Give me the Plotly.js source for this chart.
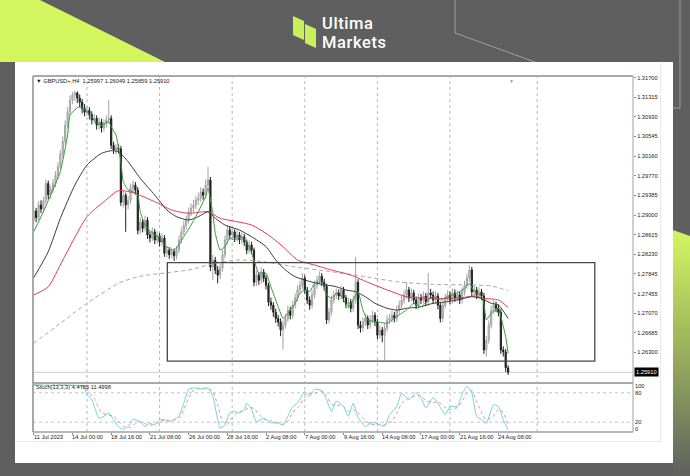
<!DOCTYPE html>
<html><head><meta charset="utf-8">
<script src="https://cdn.plot.ly/plotly-3.0.1.min.js"></script>
<style>
html,body{margin:0;padding:0;width:690px;height:476px;overflow:hidden;background:#5f5f5f;}
#bg{position:absolute;left:0;top:0;}
#chart{position:absolute;left:0;top:0;width:690px;height:476px;}
.logo{position:absolute;left:322px;color:#fff;font-family:Roboto,"Noto Sans",sans-serif;font-weight:500;font-size:16.5px;line-height:16.5px;height:16.5px;letter-spacing:0.6px;white-space:nowrap;}
</style></head><body>
<svg id="bg" width="690" height="476">
 <defs><linearGradient id="rg" x1="0" y1="0" x2="0" y2="1">
  <stop offset="0" stop-color="#d3f65f"/><stop offset="0.6" stop-color="#8e9f5c"/><stop offset="1" stop-color="#5f5f5f"/></linearGradient></defs>
 <polygon points="0,0 40,0 165,62 0,62" fill="#d3f65f"/>
 <polygon points="673,230 690,236 690,476 673,476" fill="url(#rg)"/>
 <polyline points="455,0 455,33 535,62" fill="none" stroke="#a0a0a0" stroke-width="1"/>
 <polyline points="680,0 680,108 673,108" fill="none" stroke="#a0a0a0" stroke-width="1"/>
 <rect x="15" y="62" width="658" height="401" fill="#ffffff"/>
 <polygon points="293,16 304,21 304,40 293,35" fill="#c9ef5a"/>
 <polygon points="305,24 316,29 316,48 305,43" fill="#c9ef5a"/>
</svg>
<div class="logo" style="top:15.5px;">Ultima</div>
<div class="logo" style="top:35px;">Markets</div>
<div id="chart"></div>
<script>
const symbolName = 'GBPUSD+,H4';
const openP = [1.2890,1.2908,1.2895,1.2920,1.2912,1.2928,1.2962,1.2940,1.2950,1.2962,
 1.2978,1.2995,1.3020,1.3045,1.3077,1.3103,1.3126,1.3136,1.3140,1.3130,
 1.3122,1.3110,1.3102,1.3106,1.3097,1.3087,1.3090,1.3077,1.3083,1.3071,
 1.3079,1.3087,1.3090,1.3037,1.3028,1.3032,1.3030,1.2925,1.2939,1.2920,
 1.2929,1.2953,1.2959,1.2949,1.2870,1.2886,1.2874,1.2890,1.2861,1.2855,
 1.2867,1.2851,1.2859,1.2847,1.2855,1.2825,1.2831,1.2822,1.2828,1.2820,
 1.2831,1.2851,1.2867,1.2880,1.2890,1.2906,1.2914,1.2920,1.2929,1.2933,
 1.2945,1.2939,1.2959,1.2969,1.2798,1.2811,1.2792,1.2782,1.2796,1.2822,
 1.2851,1.2871,1.2861,1.2867,1.2855,1.2861,1.2851,1.2857,1.2847,1.2831,
 1.2841,1.2831,1.2768,1.2782,1.2772,1.2788,1.2776,1.2762,1.2729,1.2723,
 1.2709,1.2697,1.2690,1.2674,1.2684,1.2697,1.2713,1.2703,1.2723,1.2737,
 1.2753,1.2762,1.2776,1.2753,1.2733,1.2723,1.2743,1.2762,1.2772,1.2780,
 1.2768,1.2760,1.2694,1.2709,1.2733,1.2743,1.2747,1.2741,1.2753,1.2737,
 1.2725,1.2729,1.2717,1.2733,1.2768,1.2684,1.2678,1.2690,1.2697,1.2684,
 1.2694,1.2703,1.2690,1.2664,1.2674,1.2664,1.2678,1.2694,1.2697,1.2703,
 1.2697,1.2713,1.2723,1.2733,1.2743,1.2753,1.2737,1.2747,1.2733,1.2723,
 1.2737,1.2733,1.2741,1.2729,1.2747,1.2743,1.2733,1.2741,1.2723,1.2697,
 1.2723,1.2737,1.2743,1.2733,1.2747,1.2737,1.2743,1.2733,1.2749,1.2762,
 1.2776,1.2792,1.2749,1.2753,1.2743,1.2749,1.2741,1.2635,1.2654,1.2684,
 1.2713,1.2723,1.2717,1.2709,1.2635,1.2631,1.25997];
const highP = [1.2918,1.2914,1.2927,1.2929,1.2936,1.2970,1.2968,1.2958,1.2971,1.2986,
 1.3004,1.3028,1.3055,1.3086,1.3112,1.3135,1.3142,1.3144,1.3143,1.3137,
 1.3128,1.3118,1.3114,1.3112,1.3104,1.3099,1.3096,1.3092,1.3089,1.3088,
 1.3096,1.3126,1.3096,1.3044,1.3040,1.3039,1.3036,1.2948,1.2944,1.2937,
 1.2962,1.2968,1.2965,1.2955,1.2895,1.2892,1.2899,1.2896,1.2868,1.2876,
 1.2873,1.2868,1.2865,1.2864,1.2861,1.2840,1.2837,1.2836,1.2834,1.2840,
 1.2860,1.2876,1.2889,1.2899,1.2915,1.2923,1.2930,1.2938,1.2944,1.2955,
 1.2952,1.2970,1.2995,1.2975,1.2822,1.2818,1.2800,1.2805,1.2831,1.2860,
 1.2880,1.2878,1.2876,1.2872,1.2870,1.2867,1.2866,1.2863,1.2852,1.2850,
 1.2847,1.2836,1.2791,1.2788,1.2797,1.2794,1.2782,1.2767,1.2738,1.2729,
 1.2716,1.2704,1.2697,1.2693,1.2706,1.2722,1.2720,1.2732,1.2746,1.2762,
 1.2771,1.2786,1.2782,1.2759,1.2740,1.2752,1.2771,1.2781,1.2789,1.2786,
 1.2775,1.2765,1.2718,1.2742,1.2752,1.2756,1.2754,1.2762,1.2759,1.2743,
 1.2738,1.2735,1.2742,1.2818,1.2774,1.2692,1.2699,1.2706,1.2703,1.2703,
 1.2712,1.2709,1.2696,1.2683,1.2680,1.2687,1.2703,1.2706,1.2712,1.2710,
 1.2722,1.2732,1.2742,1.2752,1.2768,1.2759,1.2756,1.2753,1.2740,1.2746,
 1.2745,1.2750,1.2747,1.2786,1.2755,1.2750,1.2750,1.2747,1.2729,1.2732,
 1.2746,1.2752,1.2750,1.2756,1.2754,1.2752,1.2750,1.2758,1.2771,1.2785,
 1.2801,1.2798,1.2762,1.2759,1.2758,1.2755,1.2747,1.2663,1.2693,1.2722,
 1.2732,1.2730,1.2724,1.2715,1.2642,1.2637,1.26049];
const lowP = [1.2882,1.2886,1.2890,1.2904,1.2906,1.2921,1.2931,1.2932,1.2943,1.2955,
 1.2970,1.2988,1.3012,1.3038,1.3070,1.3096,1.3118,1.3124,1.3120,1.3112,
 1.3100,1.3094,1.3095,1.3088,1.3078,1.3080,1.3068,1.3068,1.3062,1.3064,
 1.3072,1.3080,1.3030,1.3020,1.3019,1.3021,1.2918,1.2915,1.2867,1.2911,
 1.2922,1.2945,1.2940,1.2862,1.2863,1.2866,1.2868,1.2853,1.2846,1.2849,
 1.2843,1.2844,1.2838,1.2840,1.2818,1.2817,1.2814,1.2815,1.2810,1.2813,
 1.2825,1.2844,1.2860,1.2872,1.2883,1.2898,1.2906,1.2912,1.2920,1.2926,
 1.2930,1.2932,1.2950,1.2790,1.2772,1.2784,1.2766,1.2774,1.2789,1.2815,
 1.2843,1.2852,1.2853,1.2847,1.2848,1.2843,1.2843,1.2839,1.2823,1.2824,
 1.2823,1.2760,1.2761,1.2763,1.2765,1.2768,1.2754,1.2721,1.2714,1.2700,
 1.2688,1.2681,1.2662,1.2636,1.2677,1.2690,1.2695,1.2696,1.2716,1.2730,
 1.2745,1.2755,1.2745,1.2725,1.2714,1.2716,1.2736,1.2755,1.2764,1.2760,
 1.2752,1.2686,1.2687,1.2702,1.2726,1.2735,1.2733,1.2734,1.2729,1.2717,
 1.2716,1.2709,1.2710,1.2726,1.2676,1.2669,1.2671,1.2682,1.2676,1.2677,
 1.2687,1.2682,1.2656,1.2657,1.2650,1.2615,1.2671,1.2686,1.2689,1.2689,
 1.2690,1.2706,1.2716,1.2726,1.2736,1.2729,1.2730,1.2725,1.2715,1.2716,
 1.2725,1.2726,1.2721,1.2722,1.2735,1.2725,1.2726,1.2715,1.2689,1.2690,
 1.2716,1.2730,1.2725,1.2726,1.2729,1.2730,1.2725,1.2726,1.2742,1.2755,
 1.2769,1.2741,1.2740,1.2735,1.2736,1.2733,1.2627,1.2622,1.2647,1.2677,
 1.2706,1.2709,1.2701,1.2627,1.2622,1.2592,1.25859];
const closeP = [1.2908,1.2895,1.2920,1.2912,1.2928,1.2962,1.2940,1.2950,1.2962,1.2978,
 1.2995,1.3020,1.3045,1.3077,1.3103,1.3126,1.3136,1.3140,1.3130,1.3122,
 1.3110,1.3102,1.3106,1.3097,1.3087,1.3090,1.3077,1.3083,1.3071,1.3079,
 1.3087,1.3090,1.3037,1.3028,1.3032,1.3030,1.2925,1.2939,1.2920,1.2929,
 1.2953,1.2959,1.2949,1.2870,1.2886,1.2874,1.2890,1.2861,1.2855,1.2867,
 1.2851,1.2859,1.2847,1.2855,1.2825,1.2831,1.2822,1.2828,1.2820,1.2831,
 1.2851,1.2867,1.2880,1.2890,1.2906,1.2914,1.2920,1.2929,1.2933,1.2945,
 1.2939,1.2959,1.2969,1.2798,1.2811,1.2792,1.2782,1.2796,1.2822,1.2851,
 1.2871,1.2861,1.2867,1.2855,1.2861,1.2851,1.2857,1.2847,1.2831,1.2841,
 1.2831,1.2768,1.2782,1.2772,1.2788,1.2776,1.2762,1.2729,1.2723,1.2709,
 1.2697,1.2690,1.2674,1.2684,1.2697,1.2713,1.2703,1.2723,1.2737,1.2753,
 1.2762,1.2776,1.2753,1.2733,1.2723,1.2743,1.2762,1.2772,1.2780,1.2768,
 1.2760,1.2694,1.2709,1.2733,1.2743,1.2747,1.2741,1.2753,1.2737,1.2725,
 1.2729,1.2717,1.2733,1.2768,1.2684,1.2678,1.2690,1.2697,1.2684,1.2694,
 1.2703,1.2690,1.2664,1.2674,1.2664,1.2678,1.2694,1.2697,1.2703,1.2697,
 1.2713,1.2723,1.2733,1.2743,1.2753,1.2737,1.2747,1.2733,1.2723,1.2737,
 1.2733,1.2741,1.2729,1.2747,1.2743,1.2733,1.2741,1.2723,1.2697,1.2723,
 1.2737,1.2743,1.2733,1.2747,1.2737,1.2743,1.2733,1.2749,1.2762,1.2776,
 1.2792,1.2749,1.2753,1.2743,1.2749,1.2741,1.2635,1.2654,1.2684,1.2713,
 1.2723,1.2717,1.2709,1.2635,1.2631,1.2600,1.25910];

// moving averages at sparse bars
const greenBar = [0,4,7,11,14,15,18,20,22,24,26,28,31,32,34,35,36,37,39,41,43,44,46,50,52,54,57,59,62,65,68,71,72,74,75,77,79,81,83,86,89,91,93,96,98,101,103,105,108,110,112,114,116,119,121,123,126,128,130,132,134,136,138,142,146,149,152,154,157,160,163,165,168,171,175,178,180,182,185,186,187,189,192,193,195,196];
const greenVal = [1.28673,1.29066,1.29395,1.29853,1.30574,1.30967,1.31110,1.31130,1.31032,1.30934,1.30804,1.30770,1.30835,1.30737,1.30574,1.30344,1.30049,1.29656,1.29493,1.29459,1.29395,1.29066,1.28805,1.28608,1.28575,1.28412,1.28314,1.28347,1.28575,1.28805,1.29066,1.29361,1.29526,1.29035,1.28642,1.28314,1.28379,1.28544,1.28510,1.28575,1.28379,1.28117,1.27856,1.27856,1.27592,1.27199,1.26971,1.27070,1.27266,1.27463,1.27527,1.27494,1.27659,1.27691,1.27429,1.27364,1.27494,1.27331,1.27199,1.27331,1.27494,1.27134,1.26938,1.26904,1.26873,1.26971,1.27070,1.27134,1.27266,1.27199,1.27331,1.27396,1.27331,1.27396,1.27463,1.27561,1.27659,1.27494,1.27396,1.27266,1.26938,1.27070,1.27168,1.27003,1.26610,1.26283];
const blackBar = [0,6,11,17,22,28,32,35,39,44,50,55,59,64,68,72,75,79,85,90,96,100,104,108,112,117,121,125,129,133,137,141,146,150,154,160,165,171,176,181,185,189,192,196];
const blackVal = [1.27769,1.28280,1.28937,1.29591,1.29984,1.30214,1.30265,1.30246,1.30049,1.29723,1.29395,1.29100,1.28968,1.28903,1.28968,1.29066,1.28937,1.28805,1.28707,1.28575,1.28379,1.28117,1.27921,1.27789,1.27724,1.27659,1.27626,1.27592,1.27527,1.27494,1.27396,1.27266,1.27168,1.27134,1.27168,1.27199,1.27266,1.27298,1.27345,1.27396,1.27364,1.27266,1.27233,1.26971];
const redBar = [0,6,12,22,29,35,41,50,57,64,72,77,84,90,97,103,109,116,123,131,139,148,154,164,172,178,182,186,192,196];
const redVal = [1.27429,1.27592,1.28117,1.28968,1.29263,1.29479,1.29440,1.29263,1.29100,1.29035,1.29066,1.28937,1.28870,1.28805,1.28608,1.28379,1.28117,1.28019,1.27921,1.27822,1.27659,1.27494,1.27396,1.27364,1.27364,1.27384,1.27410,1.27364,1.27331,1.27187];
const grayBar = [0,11,22,35,43,53,64,75,84,95,109,123,137,150,164,181,189,196];
const grayVal = [1.26480,1.26873,1.27266,1.27659,1.27789,1.27856,1.27921,1.28052,1.28117,1.28084,1.27974,1.27887,1.27789,1.27691,1.27640,1.27626,1.27606,1.27514];

// stochastic (13,3,3)
const stochName = 'Stoch(13,3,3)';
const stochMainBar = [0,6,12,18,21,22,24,27,29,31,33,35,37,39,41,44,46,48,50,52,54,56,58,60,62,64,66,70,72,74,76,77,79,81,83,85,87,88,90,92,95,98,101,103,105,107,109,112,114,116,119,121,123,125,128,130,132,134,137,139,141,143,145,147,150,152,155,158,160,162,165,167,170,172,175,177,179,181,183,185,187,190,192,194,196];
const stochMainVal = [97,95,96,95,90,77,66,28,32,39,25,11,6,11,26,21,11,18,14,25,25,21,26,32,59,87,90,88,90,73,25,8,14,39,42,39,46,59,46,21,28,19,18,14,32,52,59,83,73,87,85,66,42,63,52,32,59,30,11,18,19,14,12,35,52,79,66,80,70,49,70,59,35,52,52,77,93,80,32,25,18,56,52,25,4.4785];
const stochSigBar = [0,8,16,21,23,25,28,31,33,35,37,40,42,44,46,48,50,52,54,56,58,60,62,64,66,69,72,74,76,78,80,81,83,85,87,89,91,93,95,98,101,103,105,107,110,112,114,117,119,121,123,125,128,130,132,134,137,139,141,143,145,148,150,152,155,158,160,162,165,167,170,172,175,177,179,181,183,185,187,190,192,194,196];
const stochSigVal = [95,96,95,93,80,68,40,34,32,22,12,9,18,21,17,14,16,20,24,24,24,28,45,70,85,89,89,83,55,22,15,22,35,41,44,50,48,36,27,23,19,16,22,40,55,72,78,80,83,74,56,55,52,42,45,40,24,16,15,16,15,22,38,58,70,73,74,64,60,62,50,46,50,62,80,84,62,40,24,33,46,40,11.4998];
const stochLevels = [100, 80, 20, 0];

// axis labels
const priceTicks = [1.31700,1.31315,1.30930,1.30545,1.30160,1.29770,1.29385,1.29000,1.28615,1.28230,1.27845,1.27455,1.27070,1.26685,1.26300];
const xLabelBar = [0,16,32,48,64,80,96,112,128,144,160,176,192];
const xLabelText = ['11 Jul 2023','14 Jul 00:00','18 Jul 16:00','21 Jul 08:00','26 Jul 00:00','28 Jul 16:00','2 Aug 08:00','7 Aug 00:00','9 Aug 16:00','14 Aug 08:00','17 Aug 00:00','21 Aug 16:00','24 Aug 08:00'];
const weekGridBar = [22,52,82,112,142,172,208];
const boxBars = [55.2, 231.8];
const boxPrices = [1.26132, 1.28064];

const FONT = 'Liberation Sans, Arial, sans-serif';
const FS = 5.7;
const last = closeP.length - 1;
const barIdx = closeP.map((_, i) => i);
const XR = [-0.3, 247.6];
const STOCH_TOP = 0.1376;

const traces = [
  {type:'candlestick', x:barIdx, open:openP, high:highP, low:lowP, close:closeP, xaxis:'x', yaxis:'y',
   increasing:{line:{color:'#a3a3a3', width:1}, fillcolor:'#cdcdcd'},
   decreasing:{line:{color:'#1f1f1f', width:1}, fillcolor:'#2b2b2b'},
   whiskerwidth:0, hoverinfo:'skip', showlegend:false},
  {type:'scatter', mode:'lines', x:grayBar, y:grayVal, xaxis:'x', yaxis:'y', hoverinfo:'skip',
   line:{color:'#a8a8a8', width:1, dash:'4px,3px', shape:'spline', smoothing:0.6}},
  {type:'scatter', mode:'lines', x:redBar, y:redVal, xaxis:'x', yaxis:'y', hoverinfo:'skip',
   line:{color:'#e8385a', width:1, shape:'spline', smoothing:0.6}},
  {type:'scatter', mode:'lines', x:blackBar, y:blackVal, xaxis:'x', yaxis:'y', hoverinfo:'skip',
   line:{color:'#3a3a3a', width:1, shape:'spline', smoothing:0.6}},
  {type:'scatter', mode:'lines', x:greenBar, y:greenVal, xaxis:'x', yaxis:'y', hoverinfo:'skip',
   line:{color:'#2f9f35', width:1, shape:'spline', smoothing:0.4}},
  {type:'scatter', mode:'lines', x:stochSigBar, y:stochSigVal, xaxis:'x2', yaxis:'y2', hoverinfo:'skip',
   line:{color:'#f28a8a', width:1, dash:'dot', shape:'spline', smoothing:0.5}},
  {type:'scatter', mode:'lines', x:stochMainBar, y:stochMainVal, xaxis:'x2', yaxis:'y2', hoverinfo:'skip',
   line:{color:'#6fd6d2', width:1, shape:'spline', smoothing:0.5}}
];

const shapes = [];
weekGridBar.forEach(b => shapes.push({type:'line', xref:'x', yref:'paper', x0:b, x1:b, y0:0, y1:1,
  line:{color:'#b8b8b8', width:1, dash:'dot'}, layer:'below'}));
[80, 20].forEach(v => shapes.push({type:'line', xref:'paper', yref:'y2', x0:0, x1:1, y0:v, y1:v,
  line:{color:'#c4c4c4', width:1, dash:'dot'}, layer:'below'}));
shapes.push({type:'line', xref:'paper', yref:'y', x0:0, x1:1, y0:closeP[last], y1:closeP[last],
  line:{color:'#cfcfcf', width:1}, layer:'below'});
shapes.push({type:'rect', xref:'x', yref:'y', x0:boxBars[0], x1:boxBars[1], y0:boxPrices[0], y1:boxPrices[1],
  line:{color:'#474747', width:1.3}, fillcolor:'rgba(0,0,0,0)'});
// frames
shapes.push({type:'line', xref:'paper', yref:'paper', x0:0, x1:1, y0:1, y1:1, line:{color:'#a9a9a9', width:2}});
shapes.push({type:'line', xref:'paper', yref:'paper', x0:0, x1:0, y0:0, y1:1, line:{color:'#a9a9a9', width:2}});
shapes.push({type:'line', xref:'paper', yref:'paper', x0:1, x1:1, y0:0, y1:1, line:{color:'#a0a0a0', width:1}});
shapes.push({type:'line', xref:'paper', yref:'paper', x0:0, x1:1, y0:STOCH_TOP, y1:STOCH_TOP, line:{color:'#a9a9a9', width:2}});
shapes.push({type:'line', xref:'paper', yref:'paper', x0:0, x1:1, y0:0, y1:0, line:{color:'#a0a0a0', width:1.5}});
shapes.push({type:'line', xref:'paper', yref:'paper', x0:1.046, x1:1.046, y0:-0.027, y1:1.04, line:{color:'#e6e6e6', width:1}});
shapes.push({type:'line', xref:'paper', yref:'paper', x0:-0.03, x1:1.046, y0:-0.027, y1:-0.027, line:{color:'#e6e6e6', width:1}});

const ann = [];
ann.push({xref:'paper', yref:'paper', x:0.002, y:0.986, xanchor:'left', yanchor:'middle', showarrow:false,
  text:'\u25BC ' + symbolName + '  ' + [openP[last], highP[last], lowP[last], closeP[last]].map(v => v.toFixed(5)).join(' '),
  font:{family:FONT, size:FS, color:'#1a1a1a'}});
ann.push({xref:'paper', yref:'paper', x:0.002, y:0.1256, xanchor:'left', yanchor:'middle', showarrow:false,
  text: stochName + ' ' + stochMainVal[stochMainVal.length-1].toFixed(4) + ' ' + stochSigVal[stochSigVal.length-1].toFixed(4),
  font:{family:FONT, size:FS, color:'#1a1a1a'}});
xLabelBar.forEach((b, k) => ann.push({xref:'x', yref:'paper', x:b, y:-0.014, xanchor:'left', yanchor:'middle',
  xshift:-2, showarrow:false, text:xLabelText[k], font:{family:FONT, size:FS, color:'#1a1a1a'}}));
ann.push({xref:'paper', yref:'y', x:1.0015, y:closeP[last], xanchor:'left', yanchor:'middle', showarrow:false,
  text:closeP[last].toFixed(5), bgcolor:'#000000', borderpad:1, font:{family:FONT, size:FS, color:'#ffffff'}});
stochLevels.forEach(v => ann.push({xref:'paper', yref:'y2', x:1.0005, y:v, xanchor:'left', yanchor:'middle',
  yshift: v === 100 ? -3 : (v === 0 ? 3 : 0), showarrow:false, text:String(v), font:{family:FONT, size:FS, color:'#1a1a1a'}}));
ann.push({xref:'paper', yref:'paper', x:0.798, y:1.0, xanchor:'center', yanchor:'top', showarrow:false,
  text:'\u25BC', font:{family:FONT, size:5, color:'#9a9a9a'}});

const layout = {
  width:690, height:476, margin:{l:33, r:57, t:76, b:44, pad:0},
  paper_bgcolor:'rgba(0,0,0,0)', plot_bgcolor:'rgba(0,0,0,0)', showlegend:false,
  xaxis:{range:XR, anchor:'y', showgrid:false, zeroline:false, showticklabels:false, ticks:'', showline:false,
    rangeslider:{visible:false}, fixedrange:true},
  xaxis2:{range:XR, anchor:'y2', showgrid:false, zeroline:false, showticklabels:false, showline:false,
    ticks:'outside', ticklen:2, tickcolor:'#8a8a8a', tickvals:xLabelBar, fixedrange:true},
  yaxis:{domain:[STOCH_TOP, 1], range:[1.25700, 1.31733], anchor:'x', side:'right', showgrid:false, zeroline:false,
    tickvals:priceTicks, ticktext:priceTicks.map(v => v.toFixed(5)), ticks:'outside', ticklen:2, tickcolor:'#8a8a8a',
    tickfont:{family:FONT, size:FS, color:'#222'}, fixedrange:true},
  yaxis2:{domain:[0, STOCH_TOP], range:[0, 100], anchor:'x2', showgrid:false, zeroline:false, showticklabels:false, fixedrange:true},
  shapes:shapes, annotations:ann
};
Plotly.newPlot('chart', traces, layout, {displayModeBar:false, staticPlot:true});
</script>
</body></html>
